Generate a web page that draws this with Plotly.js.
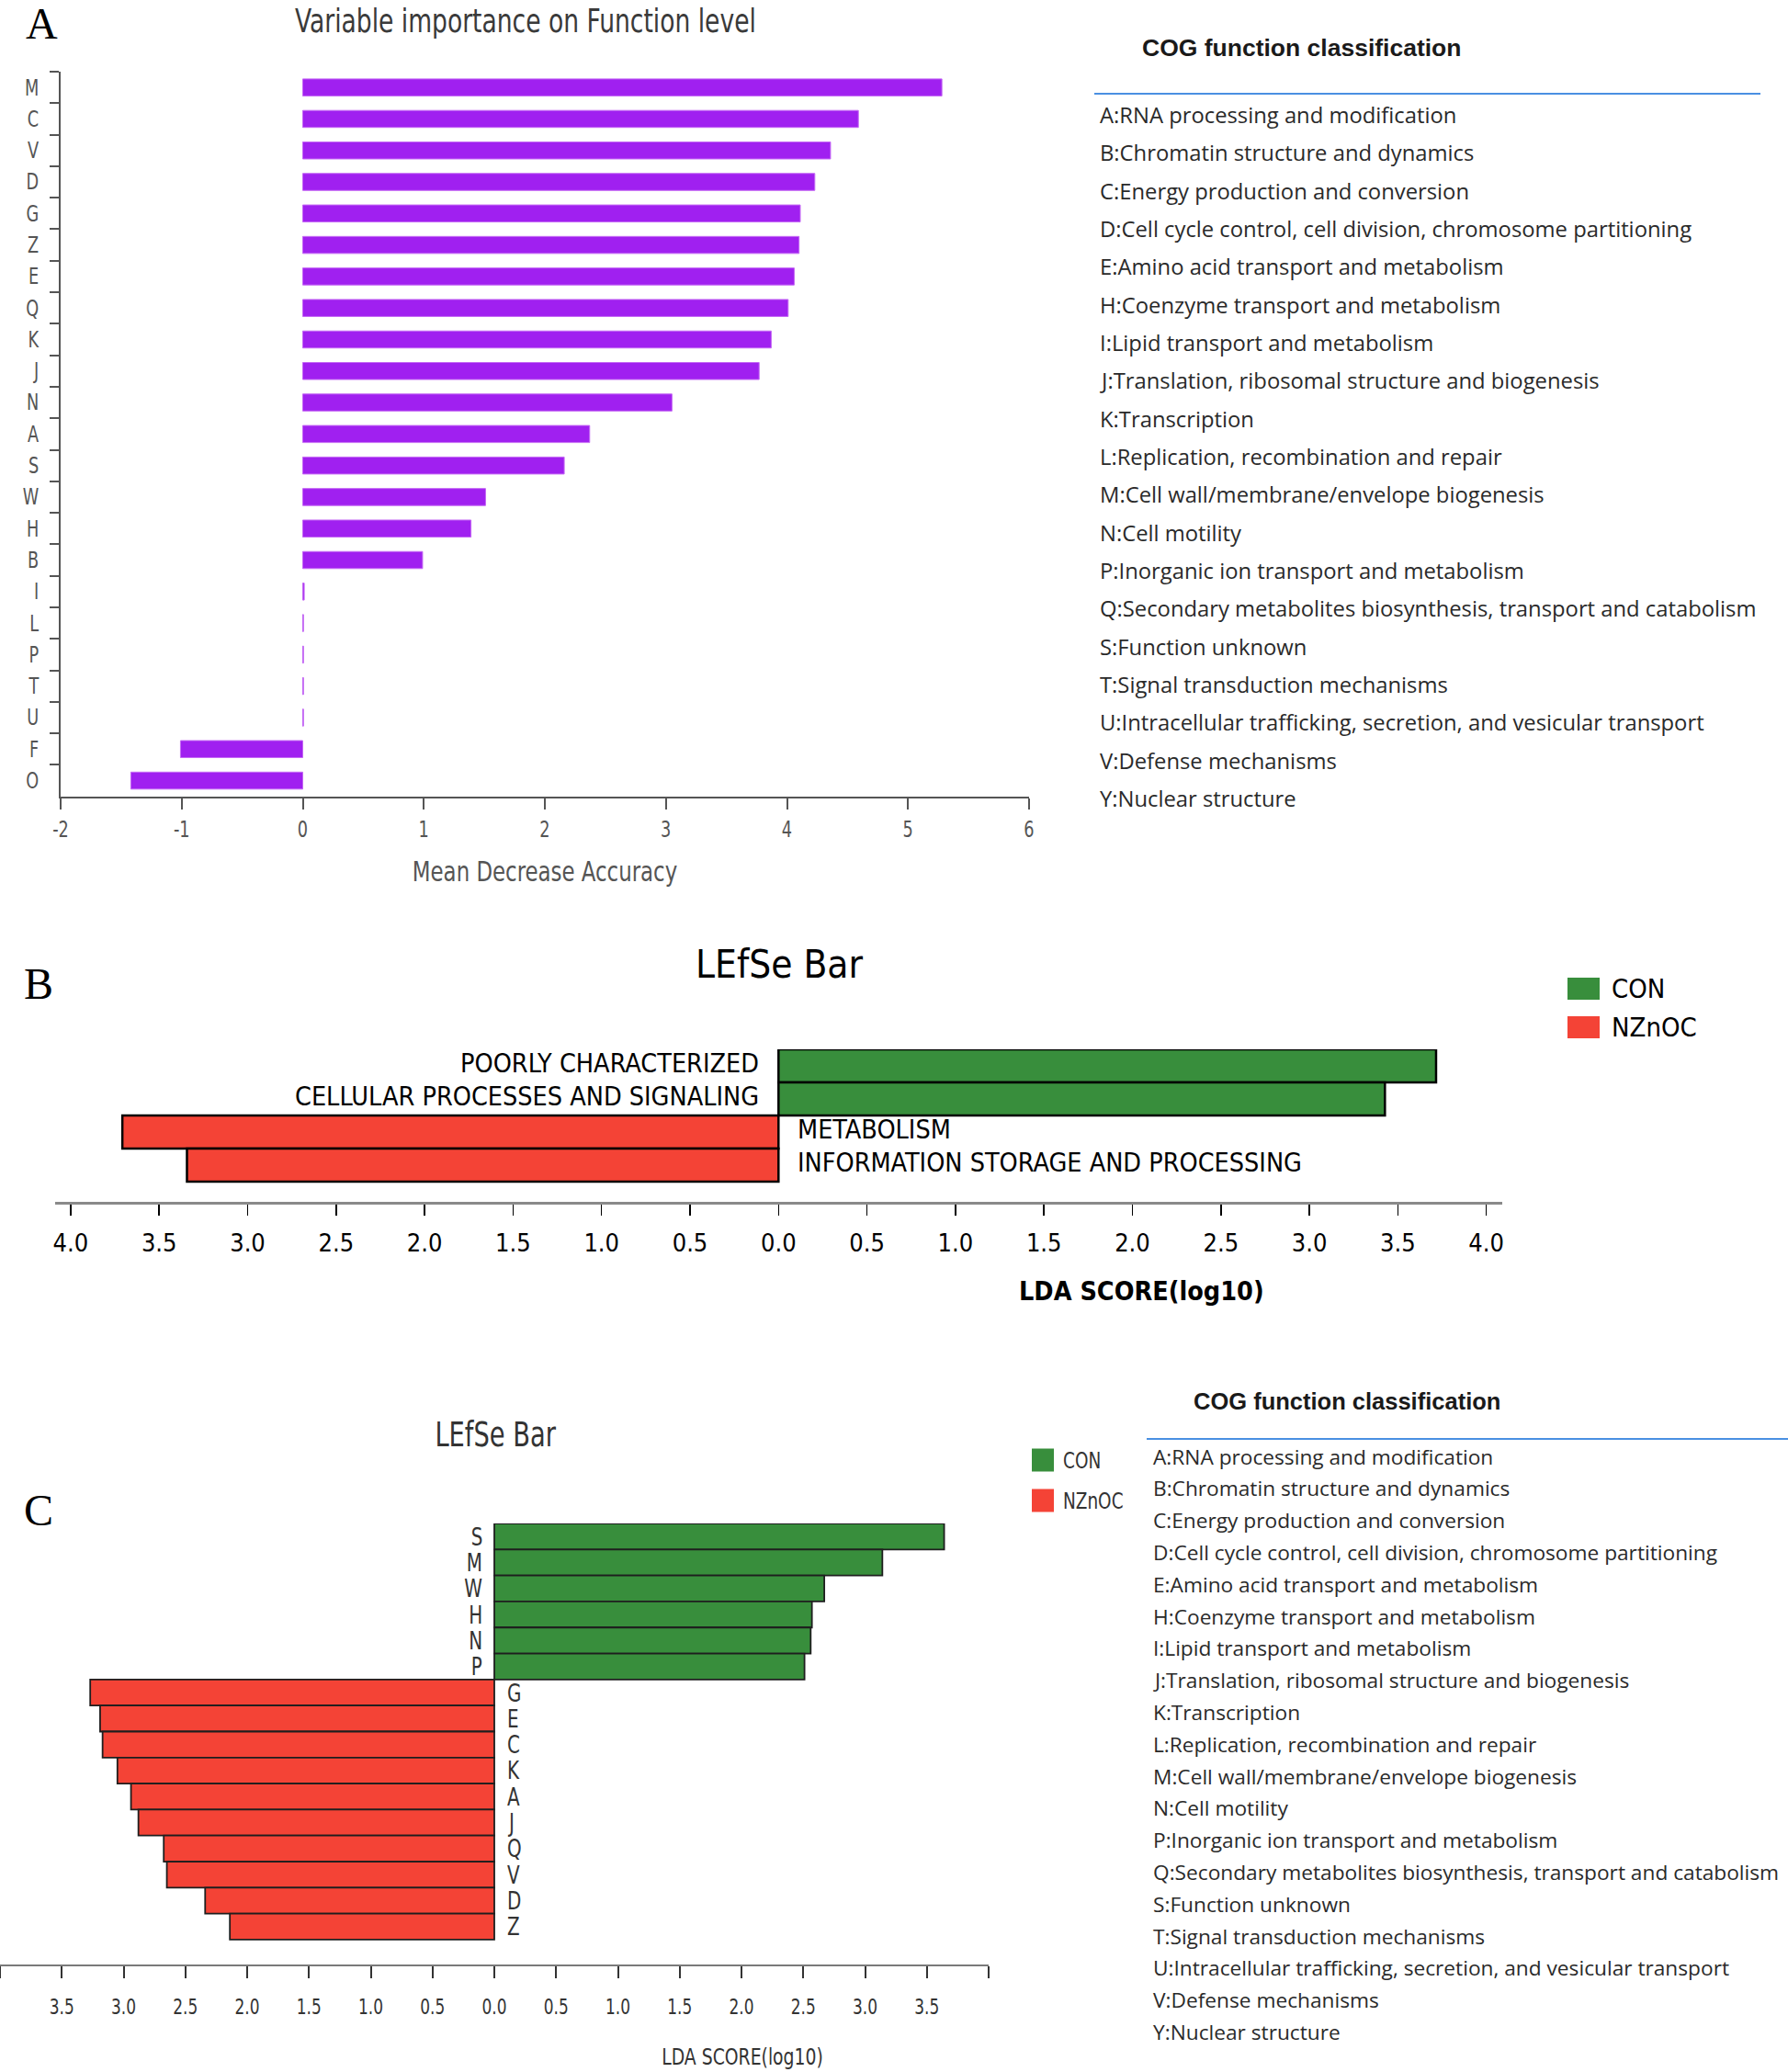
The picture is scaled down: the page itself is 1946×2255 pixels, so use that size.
<!DOCTYPE html>
<html>
<head>
<meta charset="utf-8">
<script src="https://cdn.plot.ly/plotly-3.0.1.min.js"></script>
<style>
  html, body { margin: 0; padding: 0; background: #ffffff; }
  #chart { width: 1946px; height: 2255px; }
</style>
</head>
<body>
<div id="chart"></div>
<script>
// ---------------- DATA ----------------
// Panel A: random-forest variable importance (Mean Decrease Accuracy)
const importanceCats = ['M','C','V','D','G','Z','E','Q','K','J','N','A','S','W','H','B','I','L','P','T','U','F','O'];
const importanceVals = [5.28,4.59,4.36,4.23,4.11,4.10,4.06,4.01,3.87,3.77,3.05,2.37,2.16,1.51,1.39,0.99,0.012,0.006,0.006,0.006,0.006,-1.01,-1.42];
const importanceTickVals = [-2,-1,0,1,2,3,4,5,6];
const importanceTickText = ['-2','-1','0','1','2','3','4','5','6'];

// Panel B: LEfSe, pathway level 1
const lefseBTerms = ['POORLY CHARACTERIZED','CELLULAR PROCESSES AND SIGNALING','METABOLISM','INFORMATION STORAGE AND PROCESSING'];
const lefseBScores = [3.716, 3.427, -3.708, -3.343];
const lefseBGroups = ['CON','CON','NZnOC','NZnOC'];

// Panel C: LEfSe, COG function letters
const lefseCCats = ['S','M','W','H','N','P','G','E','C','K','A','J','Q','V','D','Z'];
const lefseCScores = [3.64,3.14,2.67,2.57,2.56,2.51,-3.27,-3.19,-3.17,-3.05,-2.94,-2.88,-2.675,-2.65,-2.34,-2.14];
const lefseCGroups = ['CON','CON','CON','CON','CON','CON','NZnOC','NZnOC','NZnOC','NZnOC','NZnOC','NZnOC','NZnOC','NZnOC','NZnOC','NZnOC'];

// LDA axis ticks
const ldaBTickVals = [-4,-3.5,-3,-2.5,-2,-1.5,-1,-0.5,0,0.5,1,1.5,2,2.5,3,3.5,4];
const ldaBTickText = ['4.0','3.5','3.0','2.5','2.0','1.5','1.0','0.5','0.0','0.5','1.0','1.5','2.0','2.5','3.0','3.5','4.0'];
const ldaCTickVals = [-4,-3.5,-3,-2.5,-2,-1.5,-1,-0.5,0,0.5,1,1.5,2,2.5,3,3.5,4];
const ldaCTickText = ['','3.5','3.0','2.5','2.0','1.5','1.0','0.5','0.0','0.5','1.0','1.5','2.0','2.5','3.0','3.5',''];

const groupNames = ['CON','NZnOC'];

// COG function classification key
const cogClasses = [
  'A:RNA processing and modification',
  'B:Chromatin structure and dynamics',
  'C:Energy production and conversion',
  'D:Cell cycle control, cell division, chromosome partitioning',
  'E:Amino acid transport and metabolism',
  'H:Coenzyme transport and metabolism',
  'I:Lipid transport and metabolism',
  'J:Translation, ribosomal structure and biogenesis',
  'K:Transcription',
  'L:Replication, recombination and repair',
  'M:Cell wall/membrane/envelope biogenesis',
  'N:Cell motility',
  'P:Inorganic ion transport and metabolism',
  'Q:Secondary metabolites biosynthesis, transport and catabolism',
  'S:Function unknown',
  'T:Signal transduction mechanisms',
  'U:Intracellular trafficking, secretion, and vesicular transport',
  'V:Defense mechanisms',
  'Y:Nuclear structure'
];

// ---------------- STYLE ----------------
const W = 1946, H = 2255;
const px = x => x / W;
const py = y => 1 - y / H;
const NARROW = 'Arial Narrow, DejaVu Sans Condensed, sans-serif';   // squeezed after drawing
const COND = 'DejaVu Sans Condensed, DejaVu Sans, sans-serif';
const SERIF = 'Liberation Serif, Times New Roman, serif';
const UI = 'Open Sans, Noto Sans, sans-serif';
const groupColors = { CON: '#388e3c', NZnOC: '#f44336' };
const NARROW_SQUEEZE = 0.82;

// ---------------- TRACES ----------------
const traces = [];

traces.push({
  type: 'bar', orientation: 'h',
  x: importanceVals, y: importanceCats,
  xaxis: 'x', yaxis: 'y',
  width: 0.54,
  marker: { color: '#a020f0', line: { color: '#c468f4', width: 1 } },
  showlegend: false, hoverinfo: 'x+y'
});

groupNames.forEach(g => {
  const idx = lefseBGroups.map((v, i) => v === g ? i : -1).filter(i => i >= 0);
  traces.push({
    type: 'bar', orientation: 'h', name: g,
    x: idx.map(i => lefseBScores[i]), y: idx.map(i => lefseBTerms[i]),
    xaxis: 'x2', yaxis: 'y2', width: 1,
    marker: { color: groupColors[g], line: { color: '#000000', width: 2.5 } },
    showlegend: false
  });
});

groupNames.forEach(g => {
  const idx = lefseCGroups.map((v, i) => v === g ? i : -1).filter(i => i >= 0);
  traces.push({
    type: 'bar', orientation: 'h', name: g,
    x: idx.map(i => lefseCScores[i]), y: idx.map(i => lefseCCats[i]),
    xaxis: 'x3', yaxis: 'y3', width: 1,
    marker: { color: groupColors[g], line: { color: '#1e1e1e', width: 1.8 } },
    showlegend: false
  });
});

// ---------------- ANNOTATIONS & SHAPES ----------------
const annotations = [];
const shapes = [];

function paperText(text, x, y, font, xanchor, yanchor) {
  const xa = xanchor || 'center';
  annotations.push({
    xref: 'paper', yref: 'paper', x: px(x), y: py(y), text: text,
    showarrow: false, xanchor: xa, yanchor: yanchor || 'middle', align: xa,
    font: font
  });
}

// Panel letters
paperText('A', 45, 26, { family: SERIF, size: 48, color: '#000' });
paperText('B', 42, 1070, { family: SERIF, size: 48, color: '#000' });
paperText('C', 42, 1643, { family: SERIF, size: 48, color: '#000' });

// Titles
paperText('Variable importance on Function level', 572, 0, { family: NARROW, size: 36, color: '#3a3a3a' }, 'center', 'top');
paperText('LEfSe Bar', 848, 1050, { family: COND, size: 42, color: '#000' });
paperText('LEfSe Bar', 539, 1562, { family: NARROW, size: 37, color: '#333' });

// LDA axis titles (off-centre in the original)
paperText('<b>LDA SCORE(log10)</b>', 1242, 1405, { family: COND, size: 28.5, color: '#000' });
paperText('LDA SCORE(log10)', 808, 2238, { family: NARROW, size: 25.5, color: '#333' });

// COG key blocks
function cogBlock(x0, headerX, headerY, lineY, lineX0, lineX1, firstY, step, size, headerSize) {
  paperText('<b>COG function classification</b>', headerX, headerY, { family: 'Liberation Sans, Arial, sans-serif', size: headerSize, color: '#1a1a1a' }, 'left');
  shapes.push({ type: 'line', xref: 'paper', yref: 'paper', x0: px(lineX0), x1: px(lineX1), y0: py(lineY), y1: py(lineY),
    line: { color: '#4a90e2', width: 2 } });
  cogClasses.forEach((t, i) => {
    paperText(t, x0, firstY + i * step, { family: UI, size: size, color: '#2a2a2a' }, 'left');
  });
}
cogBlock(1195, 1241, 52, 102, 1191, 1916, 125, 41.33, 23.8, 26.5);
cogBlock(1253, 1297, 1525, 1566, 1248, 1946, 1585, 34.8, 22.7, 25.5);

// Legends for B and C
function legendBox(x0, x1, yc, h, color) {
  shapes.push({ type: 'rect', xref: 'paper', yref: 'paper', x0: px(x0), x1: px(x1), y0: py(yc + h / 2), y1: py(yc - h / 2),
    fillcolor: color, line: { width: 0 } });
}
legendBox(1706, 1741, 1076, 24, groupColors.CON);
legendBox(1706, 1741, 1118, 24, groupColors.NZnOC);
paperText('CON', 1752, 1076, { family: COND, size: 29, color: '#000' }, 'left');
paperText('NZnOC', 1752, 1118, { family: COND, size: 29, color: '#000' }, 'left');

legendBox(1123, 1147, 1589, 25, groupColors.CON);
legendBox(1123, 1147, 1633, 25, groupColors.NZnOC);
paperText('CON', 1155, 1589, { family: NARROW, size: 25, color: '#333' }, 'left');
paperText('NZnOC', 1155, 1633, { family: NARROW, size: 25, color: '#333' }, 'left');

// Bar labels at the zero line
lefseBTerms.forEach((t, i) => {
  const pos = lefseBScores[i] > 0;
  annotations.push({ xref: 'x2', yref: 'y2', x: 0, y: t, text: t, showarrow: false,
    xanchor: pos ? 'right' : 'left', align: pos ? 'right' : 'left', xshift: pos ? -19 : 19, yshift: 3,
    font: { family: COND, size: 28.5, color: '#000' } });
});
lefseCCats.forEach((t, i) => {
  const pos = lefseCScores[i] > 0;
  annotations.push({ xref: 'x3', yref: 'y3', x: 0, y: t, text: t, showarrow: false,
    xanchor: pos ? 'right' : 'left', align: pos ? 'right' : 'left', xshift: pos ? -11 : 12,
    font: { family: NARROW, size: 27, color: '#333' } });
});

// ---------------- LAYOUT ----------------
const layout = {
  width: W, height: H,
  margin: { l: 0, r: 0, t: 0, b: 0, pad: 0 },
  paper_bgcolor: '#ffffff', plot_bgcolor: 'rgba(0,0,0,0)',
  showlegend: false, bargap: 0,
  xaxis: {
    domain: [px(66), px(1120)], anchor: 'y', range: [-2, 6],
    tickmode: 'array', tickvals: importanceTickVals, ticktext: importanceTickText,
    ticks: 'outside', ticklen: 12, tickwidth: 2, tickcolor: '#555',
    showline: true, linecolor: '#555', linewidth: 2,
    showgrid: false, zeroline: false,
    tickfont: { family: NARROW, size: 24, color: '#555' },
    ticklabelstandoff: 1,
    title: { text: 'Mean Decrease Accuracy', font: { family: NARROW, size: 31, color: '#555' }, standoff: 22 }
  },
  yaxis: {
    domain: [py(866.7), py(78)], anchor: 'x', type: 'category',
    categoryorder: 'array', categoryarray: importanceCats,
    range: [importanceCats.length - 0.5, -0.5],
    tickson: 'boundaries', ticks: 'outside', ticklen: 10, tickwidth: 2, tickcolor: '#555',
    showline: true, linecolor: '#555', linewidth: 2,
    showgrid: false, zeroline: false,
    tickfont: { family: NARROW, size: 24, color: '#555' },
    ticklabelstandoff: 17
  },
  xaxis2: {
    domain: [px(59.6), px(1635)], anchor: 'y2', range: [-4.09, 4.09],
    tickmode: 'array', tickvals: ldaBTickVals, ticktext: ldaBTickText,
    ticks: 'outside', ticklen: 12, tickwidth: 1.5, tickcolor: '#000',
    showline: true, linecolor: '#8a8a8a', linewidth: 3,
    showgrid: false, zeroline: false,
    tickfont: { family: COND, size: 27, color: '#000' },
    ticklabelstandoff: 7
  },
  yaxis2: {
    domain: [py(1308), py(1142)], anchor: 'x2', type: 'category',
    categoryorder: 'array', categoryarray: lefseBTerms,
    range: [3.5 + 22 / 36, -0.5], visible: false
  },
  xaxis3: {
    domain: [0, px(1076)], anchor: 'y3', range: [-4, 4],
    tickmode: 'array', tickvals: ldaCTickVals, ticktext: ldaCTickText,
    ticks: 'outside', ticklen: 13, tickwidth: 2, tickcolor: '#333',
    showline: true, linecolor: '#7a7a7a', linewidth: 2,
    showgrid: false, zeroline: false,
    tickfont: { family: NARROW, size: 23, color: '#333' },
    ticklabelstandoff: 11
  },
  yaxis3: {
    domain: [py(2138), py(1658)], anchor: 'x3', type: 'category',
    categoryorder: 'array', categoryarray: lefseCCats,
    range: [-0.5 + 480 / 28.31, -0.5], visible: false
  },
  annotations: annotations,
  shapes: shapes
};

// Narrow (Arial-Narrow-like) texts: squeeze the condensed fallback horizontally
function squeezeNarrow(gd) {
  gd.querySelectorAll('text').forEach(t => {
    const ff = (t.style && t.style.fontFamily) || t.getAttribute('font-family') || '';
    if (ff.indexOf('Arial Narrow') >= 0 && t.textContent.trim().length > 0) {
      const L = t.getComputedTextLength();
      if (L > 0) {
        t.setAttribute('textLength', (L * NARROW_SQUEEZE).toFixed(2));
        t.setAttribute('lengthAdjust', 'spacingAndGlyphs');
      }
    }
  });
}

Plotly.newPlot('chart', traces, layout, { staticPlot: true, displayModeBar: false })
  .then(gd => squeezeNarrow(gd));
</script>
</body>
</html>
